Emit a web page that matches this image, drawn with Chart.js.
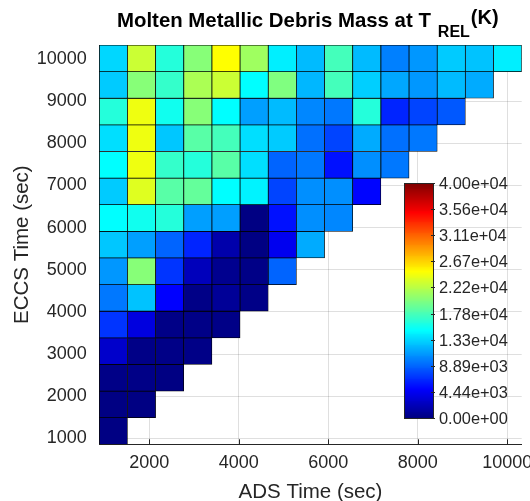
<!DOCTYPE html>
<html>
<head>
<meta charset="utf-8">
<title>Molten Metallic Debris Mass</title>
<script src="https://cdn.jsdelivr.net/npm/chart.js@4.4.1/dist/chart.umd.min.js"></script>
<style>
  html, body { margin: 0; padding: 0; background: #ffffff; }
  #wrap { width: 530px; height: 501px; position: relative; }
</style>
</head>
<body>
<div id="wrap"><canvas id="c" width="530" height="501"></canvas></div>
<script>
// ADS time of each grid column (cell centres, sec)
const adsTimes = [1198, 1827, 2456, 3086, 3715, 4344, 4974, 5603, 6232, 6861, 7491, 8120, 8749, 9379, 10008];
// ECCS time of each grid row (cell centres, sec), bottom row first
const eccsTimes = [1174, 1806, 2437, 3069, 3700, 4332, 4964, 5595, 6227, 6858, 7490, 8122, 8753, 9385, 10016];
// Molten metallic debris mass; row i lists ADS columns 0..i for eccsTimes[i]
const massByEccs = [
  [100],
  [100, 100],
  [300, 200, 150],
  [2900, 300, 200, 200],
  [6900, 3600, 300, 200, 300],
  [9600, 12500, 4900, 300, 900, 200],
  [10900, 20300, 6900, 2300, 600, 200, 8900],
  [12800, 11200, 8900, 6300, 1600, 0, 4300, 11600],
  [14900, 15600, 16300, 11200, 11200, 0, 5600, 10600, 10300],
  [12900, 23600, 18300, 18900, 14900, 14500, 7600, 10600, 10600, 5000],
  [14900, 24300, 16900, 16300, 18300, 13600, 8900, 9600, 5600, 10600, 9600],
  [13600, 24300, 12800, 18300, 17600, 13600, 12900, 9300, 7600, 11600, 9300, 9600],
  [16300, 24300, 15600, 20300, 14900, 11200, 12300, 10300, 9600, 16300, 6300, 7600, 8300],
  [12900, 20300, 16900, 21600, 22900, 14900, 19900, 12100, 17600, 13100, 11500, 10900, 12300, 11600],
  [13400, 22900, 16300, 20300, 24900, 21200, 14300, 12300, 17600, 12300, 9900, 10900, 12900, 12500, 14300]
];
// Axis and colour-bar tick values
const xTicks = [2000, 4000, 6000, 8000, 10000];
const yTicks = [1000, 2000, 3000, 4000, 5000, 6000, 7000, 8000, 9000, 10000];
const colorTicks = [0, 4444.44, 8888.89, 13333.3, 17777.8, 22222.2, 26666.7, 31111.1, 35555.6, 40000];
const massLimits = [0, 40000];

const FONT = '"Liberation Sans", Arial, Helvetica, sans-serif';
const INK = '#262626';

// 256-level jet colour map
function jetU(j) {
  if (j < 1 || j > 191) return 0;
  if (j <= 64) return j / 64;
  if (j <= 127) return 1;
  return (192 - j) / 64;
}
function jetColor(v) {
  const t = (v - massLimits[0]) / (massLimits[1] - massLimits[0]);
  const i = Math.max(1, Math.min(256, Math.floor(t * 256) + 1));
  const r = jetU(i - 96), g = jetU(i - 32), b = jetU(i + 32);
  return 'rgb(' + Math.round(r * 255) + ',' + Math.round(g * 255) + ',' + Math.round(b * 255) + ')';
}
function sci(v) {
  const parts = v.toExponential(2).split('e');
  const n = parseInt(parts[1], 10);
  return parts[0] + 'e' + (n < 0 ? '-' : '+') + String(Math.abs(n)).padStart(2, '0');
}

// Cell extents from the centre spacing
const halfX = (adsTimes[adsTimes.length - 1] - adsTimes[0]) / (adsTimes.length - 1) / 2;
const halfY = (eccsTimes[eccsTimes.length - 1] - eccsTimes[0]) / (eccsTimes.length - 1) / 2;

const cells = [];
massByEccs.forEach((row, r) => {
  row.forEach((m, c) => {
    cells.push({ x: adsTimes[c], y: [eccsTimes[r] - halfY, eccsTimes[r] + halfY], m: m });
  });
});

// Title with subscript
const titlePlugin = {
  id: 'titleText',
  afterDraw(chart) {
    const ctx = chart.ctx;
    const main = 'Molten Metallic Debris Mass at T';
    const sub = 'REL';
    const tail = '(K)';
    ctx.save();
    ctx.fillStyle = '#000000';
    ctx.textAlign = 'left';
    ctx.textBaseline = 'alphabetic';
    let x = 117;
    ctx.font = 'bold 20.4px ' + FONT;
    ctx.fillText(main, x, 26.5);
    x += ctx.measureText(main).width + 7;
    ctx.font = 'bold 16px ' + FONT;
    ctx.fillText(sub, x, 37);
    x += ctx.measureText(sub).width + 1;
    ctx.font = 'bold 20px ' + FONT;
    ctx.fillText(tail, x, 24);
    ctx.restore();
  }
};

// Inward tick marks on both axes
const tickMarks = {
  id: 'tickMarks',
  beforeDatasetsDraw(chart) {
    const ctx = chart.ctx;
    const a = chart.chartArea;
    const sx = chart.scales.x, sy = chart.scales.y;
    ctx.save();
    ctx.strokeStyle = INK;
    ctx.lineWidth = 1;
    ctx.beginPath();
    xTicks.forEach(v => {
      const p = Math.round(sx.getPixelForValue(v)) + 0.5;
      ctx.moveTo(p, a.bottom);
      ctx.lineTo(p, a.bottom - 5);
    });
    yTicks.forEach(v => {
      const p = Math.round(sy.getPixelForValue(v)) + 0.5;
      ctx.moveTo(a.left, p);
      ctx.lineTo(a.left + 5, p);
    });
    ctx.stroke();
    ctx.restore();
  }
};

// Colour bar on the right of the grid
const colorBar = {
  id: 'colorBar',
  afterDraw(chart) {
    const ctx = chart.ctx;
    const left = 404, top = 183, width = 29, height = 235;
    ctx.save();
    for (let py = 0; py < height; py++) {
      const v = massLimits[1] - (py + 0.5) / height * (massLimits[1] - massLimits[0]);
      ctx.fillStyle = jetColor(v);
      ctx.fillRect(left, top + py, width, 1);
    }
    ctx.strokeStyle = INK;
    ctx.lineWidth = 1;
    ctx.strokeRect(left + 0.5, top + 0.5, width, height);
    ctx.fillStyle = INK;
    ctx.font = '16.4px ' + FONT;
    ctx.textAlign = 'left';
    ctx.textBaseline = 'middle';
    ctx.beginPath();
    colorTicks.forEach(v => {
      const y = top + (1 - (v - massLimits[0]) / (massLimits[1] - massLimits[0])) * height;
      const yy = Math.round(y) + 0.5;
      ctx.moveTo(left + width - 2, yy);
      ctx.lineTo(left + width + 2, yy);
      ctx.fillText(sci(v), left + width + 6, y + 1.5);
    });
    ctx.stroke();
    ctx.restore();
  }
};

new Chart(document.getElementById('c'), {
  type: 'bar',
  data: {
    datasets: [{
      data: cells,
      backgroundColor: ctx => jetColor(ctx.raw.m),
      borderColor: '#000000',
      borderWidth: 0.75,
      borderSkipped: false,
      categoryPercentage: 1,
      barPercentage: 1
    }]
  },
  options: {
    responsive: false,
    animation: false,
    devicePixelRatio: 1,
    layout: { padding: { left: 0, top: 45, right: 8.3, bottom: 0 } },
    plugins: {
      legend: { display: false },
      tooltip: { enabled: false },
      title: { display: false }
    },
    scales: {
      x: {
        type: 'linear',
        min: adsTimes[0] - halfX,
        max: adsTimes[adsTimes.length - 1] + halfX,
        offset: false,
        afterBuildTicks: s => { s.ticks = xTicks.map(v => ({ value: v })); },
        afterFit: s => { s.height = 56.7; s.paddingLeft = 0; s.paddingRight = 0; },
        grid: { offset: false, color: 'rgba(38,38,38,0.15)', drawTicks: false },
        border: { display: true, color: INK, width: 1 },
        ticks: { color: INK, font: { family: FONT, size: 18 }, padding: 8, maxRotation: 0, autoSkip: false, callback: v => String(v) },
        title: { display: true, text: 'ADS Time (sec)', color: INK, font: { family: FONT, size: 20.5, lineHeight: 1 }, padding: { top: 0, bottom: -1.5 } }
      },
      y: {
        type: 'linear',
        min: eccsTimes[0] - halfY,
        max: eccsTimes[eccsTimes.length - 1] + halfY,
        afterBuildTicks: s => { s.ticks = yTicks.map(v => ({ value: v })); },
        afterFit: s => { s.width = 99.3; s.paddingTop = 0; s.paddingBottom = 0; },
        grid: { color: 'rgba(38,38,38,0.15)', drawTicks: false },
        border: { display: true, color: INK, width: 1 },
        ticks: { color: INK, font: { family: FONT, size: 18 }, padding: 12.6, autoSkip: false, callback: v => String(v) },
        title: { display: true, text: 'ECCS Time (sec)', color: INK, font: { family: FONT, size: 20.5, lineHeight: 1 }, padding: { top: 12, bottom: 0 } }
      }
    }
  },
  plugins: [tickMarks, colorBar, titlePlugin]
});
</script>
</body>
</html>
